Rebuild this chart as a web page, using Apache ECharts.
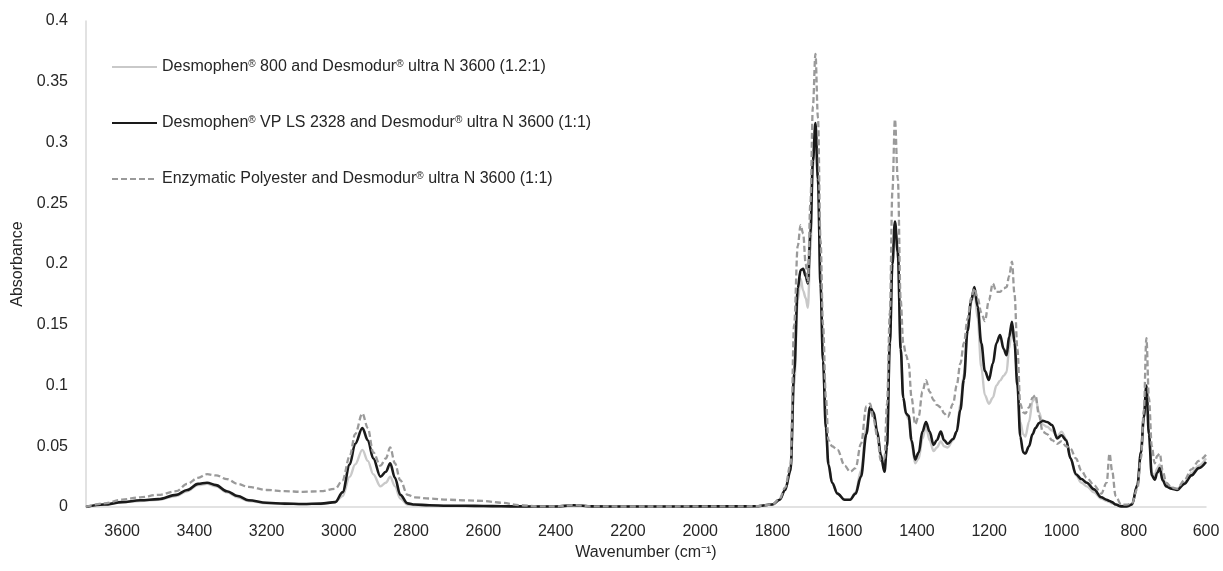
<!DOCTYPE html>
<html>
<head>
<meta charset="utf-8">
<script src="https://cdn.jsdelivr.net/npm/echarts@6/dist/echarts.min.js"></script>
<style>
html,body{margin:0;padding:0;background:#fff;}
#chart{width:1223px;height:571px;}
</style>
</head>
<body>
<div id="chart"></div>
<script>
var seriesNames = [
  'Desmophen® 800 and Desmodur® ultra N 3600 (1.2:1)',
  'Desmophen® VP LS 2328 and Desmodur® ultra N 3600 (1:1)',
  'Enzymatic Polyester and Desmodur® ultra N 3600 (1:1)'
];
var xAxisTitle = 'Wavenumber (cm\u207B\u00B9)';
var yAxisTitle = 'Absorbance';

var wavenumbers = [
  3700,3650,3600,3550,3500,3450,3420,3390,3365,3340,3310,3280,3250,
  3200,3150,3100,3050,3010,2990,2970,2955,2935,2920,
  2905,2885,2870,2858,2845,2830,2810,2790,2750,2700,
  2650,2600,2550,2500,2450,2400,2350,2300,2200,2100,
  2000,1900,1850,1800,1780,1765,1750,1740,1730,1722,
  1715,1708,1702,1695,1688,1681,1674,1667,1660,1652,
  1645,1635,1620,1600,1585,1570,1555,1540,1530,1520,
  1510,1500,1490,1483,1475,1468,1461,1453,1445,1438,
  1430,1423,1415,1405,1395,1385,1375,1365,1354,1345,
  1334,1325,1315,1300,1290,1280,1270,1260,1250,1241,
  1232,1222,1212,1201,1190,1180,1170,1160,1152,1145,
  1137,1130,1122,1114,1106,1100,1090,1080,1072,1062,
  1052,1040,1026,1012,1000,987,975,960,945,930,
  910,890,875,867,860,850,835,820,805,790,
  780,772,765,758,750,742,735,728,720,710,
  695,680,660,640,620,600
];

var desmophen800 = [
  0,0.002,0.004,0.005,0.006,0.009,0.013,0.018,0.019,0.017,0.012,0.008,0.005,
  0.003,0.0025,0.0022,0.0025,0.004,0.009,0.025,0.035,0.047,0.038,
  0.027,0.017,0.020,0.025,0.017,0.007,0.002,0.0015,0.001,0.001,
  0.0008,0.0006,0.0005,0.0004,0.0004,0.0004,0.0015,0.0005,0.0004,0.0004,
  0.0005,0.0005,0.0006,0.002,0.006,0.014,0.030,0.10,0.17,0.188,
  0.178,0.172,0.164,0.21,0.28,0.31,0.265,0.18,0.12,0.065,
  0.035,0.020,0.011,0.006,0.006,0.012,0.03,0.065,0.08,0.075,
  0.06,0.04,0.03,0.05,0.13,0.2,0.232,0.205,0.13,0.09,
  0.076,0.072,0.052,0.036,0.04,0.056,0.066,0.055,0.046,0.049,
  0.054,0.05,0.049,0.055,0.062,0.085,0.11,0.145,0.168,0.178,
  0.155,0.115,0.092,0.085,0.09,0.10,0.104,0.108,0.111,0.13,
  0.15,0.14,0.105,0.07,0.06,0.058,0.07,0.087,0.09,0.078,
  0.068,0.066,0.063,0.058,0.062,0.056,0.04,0.026,0.02,0.017,
  0.012,0.007,0.005,0.004,0.003,0.002,0.001,0.001,0.002,0.018,
  0.045,0.074,0.098,0.06,0.028,0.026,0.032,0.035,0.024,0.018,
  0.016,0.015,0.02,0.028,0.034,0.04
];

var desmophenVPLS = [
  0,0.002,0.004,0.0055,0.0065,0.010,0.014,0.019,0.020,0.018,0.013,0.009,0.0055,
  0.0035,0.0028,0.0025,0.0028,0.004,0.012,0.035,0.052,0.065,0.055,
  0.040,0.025,0.029,0.036,0.024,0.010,0.003,0.002,0.0015,0.001,
  0.001,0.0008,0.0006,0.0005,0.0004,0.0004,0.0015,0.0005,0.0004,0.0004,
  0.0005,0.0005,0.0006,0.002,0.006,0.014,0.030,0.11,0.18,0.195,
  0.196,0.19,0.184,0.225,0.285,0.316,0.27,0.184,0.12,0.065,
  0.035,0.020,0.011,0.006,0.006,0.011,0.025,0.06,0.082,0.078,
  0.062,0.043,0.029,0.05,0.135,0.2,0.235,0.21,0.13,0.09,
  0.077,0.075,0.055,0.039,0.045,0.062,0.070,0.062,0.051,0.055,
  0.062,0.055,0.052,0.056,0.062,0.080,0.105,0.145,0.17,0.181,
  0.165,0.135,0.112,0.1045,0.118,0.135,0.1416,0.13,0.125,0.14,
  0.1525,0.135,0.10,0.058,0.045,0.044,0.05,0.06,0.065,0.069,
  0.071,0.07,0.0675,0.0565,0.059,0.055,0.04,0.027,0.023,0.02,
  0.0145,0.008,0.006,0.005,0.004,0.002,0.0005,0.0005,0.002,0.018,
  0.045,0.074,0.1,0.06,0.026,0.0225,0.028,0.032,0.022,0.017,
  0.015,0.014,0.019,0.026,0.032,0.037
];

var enzymaticPolyester = [
  0,0.003,0.006,0.008,0.010,0.013,0.019,0.024,0.027,0.026,0.023,0.019,0.0165,
  0.014,0.013,0.0125,0.013,0.015,0.022,0.042,0.06,0.077,0.065,
  0.045,0.034,0.040,0.049,0.036,0.022,0.010,0.008,0.007,0.006,
  0.0055,0.005,0.0035,0.0015,0.0005,0.0004,0.0015,0.0005,0.0004,0.0004,
  0.0005,0.0005,0.0006,0.002,0.007,0.016,0.035,0.15,0.215,0.232,
  0.225,0.20,0.185,0.25,0.33,0.373,0.32,0.22,0.15,0.09,
  0.055,0.05,0.047,0.034,0.029,0.032,0.052,0.083,0.085,0.072,
  0.058,0.038,0.04,0.085,0.16,0.26,0.319,0.27,0.17,0.135,
  0.125,0.118,0.09,0.068,0.075,0.095,0.1045,0.095,0.088,0.084,
  0.082,0.077,0.074,0.085,0.100,0.118,0.135,0.155,0.172,0.18,
  0.172,0.16,0.153,0.17,0.184,0.177,0.177,0.18,0.181,0.19,
  0.202,0.175,0.13,0.085,0.078,0.077,0.082,0.09,0.092,0.075,
  0.062,0.06,0.055,0.052,0.054,0.05,0.048,0.04,0.03,0.024,
  0.018,0.011,0.02,0.044,0.03,0.009,0.002,0.002,0.003,0.015,
  0.04,0.08,0.139,0.09,0.05,0.036,0.042,0.044,0.03,0.02,
  0.016,0.015,0.022,0.031,0.038,0.043
];

function pairs(ys) {
  return wavenumbers.map(function (w, i) { return [w, ys[i]]; });
}

var FONT = '"Liberation Sans", Arial, sans-serif';
var chart = echarts.init(document.getElementById('chart'), null, {renderer: 'canvas'});

var option = {
  backgroundColor: '#ffffff',
  animation: false,
  textStyle: {fontFamily: FONT},
  grid: {left: 86, right: 17, top: 21, bottom: 64, containLabel: false},
  legend: {
    orient: 'vertical',
    left: 106,
    top: 54,
    itemWidth: 45,
    itemHeight: 14,
    itemGap: 40,
    data: seriesNames,
    itemStyle: {opacity: 0},
    formatter: function (name) {
      return name.replace(/®/g, '{sup|®}');
    },
    textStyle: {
      fontFamily: FONT,
      fontSize: 16,
      color: '#262626',
      rich: {
        sup: {fontSize: 10, verticalAlign: 'top', padding: [0, 0, 6, 0], fontFamily: FONT, color: '#262626'}
      }
    }
  },
  xAxis: {
    type: 'value',
    inverse: true,
    min: 600,
    max: 3700,
    interval: 200,
    name: xAxisTitle,
    nameLocation: 'middle',
    nameGap: 37,
    nameTextStyle: {fontFamily: FONT, fontSize: 16, color: '#262626'},
    axisLine: {show: true, lineStyle: {color: '#d9d9d9', width: 1.5}},
    axisTick: {show: false},
    splitLine: {show: false},
    axisLabel: {
      fontFamily: FONT, fontSize: 16, color: '#262626', margin: 17,
      formatter: function (v) { return (v % 200 === 0) ? String(v) : ''; }
    }
  },
  yAxis: {
    type: 'value',
    min: 0,
    max: 0.4,
    interval: 0.05,
    name: yAxisTitle,
    nameLocation: 'middle',
    nameGap: 58,
    nameTextStyle: {fontFamily: FONT, fontSize: 16, color: '#262626'},
    axisLine: {show: true, lineStyle: {color: '#d9d9d9', width: 1.5}},
    axisTick: {show: false},
    splitLine: {show: false},
    axisLabel: {
      fontFamily: FONT, fontSize: 16, color: '#262626', margin: 18,
      formatter: function (v) { return String(Math.round(v * 100) / 100); }
    }
  },
  series: [
    {
      name: seriesNames[0], type: 'line', data: pairs(desmophen800),
      symbol: 'none', smooth: 0.35, smoothMonotone: 'x',
      lineStyle: {color: '#c9c9c9', width: 2.4},
      itemStyle: {color: '#c9c9c9'}
    },
    {
      name: seriesNames[1], type: 'line', data: pairs(desmophenVPLS),
      symbol: 'none', smooth: 0.35, smoothMonotone: 'x',
      lineStyle: {color: '#1a1a1a', width: 2.6},
      itemStyle: {color: '#1a1a1a'}
    },
    {
      name: seriesNames[2], type: 'line', data: pairs(enzymaticPolyester),
      symbol: 'none', smooth: 0.35, smoothMonotone: 'x',
      lineStyle: {color: '#9a9a9a', width: 2.3, type: [6, 3]},
      itemStyle: {color: '#9a9a9a'}
    }
  ]
};
chart.setOption(option);
</script>
</body>
</html>
